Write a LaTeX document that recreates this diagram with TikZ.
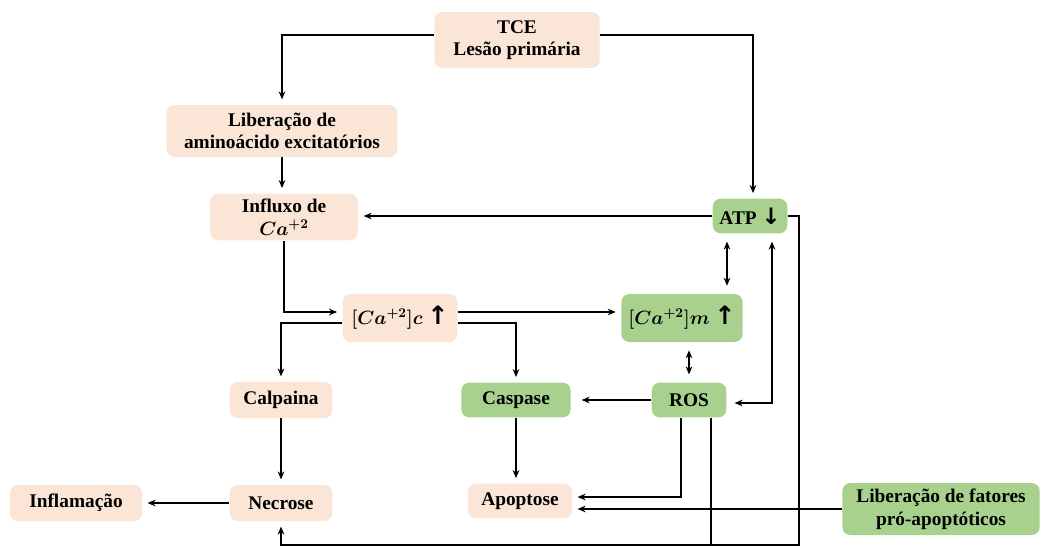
\documentclass[tikz,border=0pt]{standalone}
\usepackage{fontspec}
\setmainfont{Liberation Serif}
\newfontfamily\symfont{DejaVu Sans}
\usepackage{xcolor}
\usepackage{tikz}
\usetikzlibrary{positioning,calc,arrows.meta}

\definecolor{peach}{HTML}{FBE5D6}
\definecolor{leaf}{HTML}{A9D18E}

\newcommand{\upar}{{\symfont\bfseries\fontsize{19}{19}\selectfont ↑}}
\newcommand{\dnar}{{\symfont\bfseries\fontsize{17}{17}\selectfont ↓}}

\tikzset{
  box/.style={rounded corners=6pt, align=center, inner sep=0pt,
    font=\fontsize{14.5}{17}\selectfont\bfseries\boldmath},
  pbox/.style={box, fill=peach},
  gbox/.style={box, fill=leaf},
  wire/.style={line width=1.3pt},
  arr/.style={wire, -{Stealth[length=6pt,width=5pt]}, shorten >=4pt},
  dbl/.style={wire, {Stealth[length=6pt,width=5pt]}-{Stealth[length=6pt,width=5pt]},
    shorten >=6pt, shorten <=6pt}
}

\begin{document}
\begin{tikzpicture}[x=0.75pt,y=-0.75pt]
    \useasboundingbox (0,0) rectangle (1045,546);

    % top of the cascade
    \node[pbox, minimum width=124pt, minimum height=42pt] (tce) at (517,40) {TCE\\Lesão primária};
    \node[pbox, minimum width=173pt, minimum height=39pt] (libam) at (282,131) {Liberação de\\aminoácido excitatórios};
    \node[pbox, minimum width=111pt, minimum height=35pt] (influxo) at (284,217) {Influxo de\\$Ca^{+2}$};
    \node[gbox, minimum width=56pt, minimum height=26pt] (atp) at (750,216) {ATP \dnar};

    % calcium
    \node[pbox, minimum width=86pt, minimum height=36pt] (cac) at (400,318) {$[Ca^{+2}]c$ \upar};
    \node[gbox, minimum width=91pt, minimum height=36pt] (cam) at (682,318) {$[Ca^{+2}]m$ \upar};

    % effectors
    \node[pbox, minimum width=77pt, minimum height=27pt] (calp) at (281,400) {Calpaina};
    \node[gbox, minimum width=82pt, minimum height=26pt] (casp) at (516,400) {Caspase};
    \node[gbox, minimum width=56pt, minimum height=26pt] (ros) at (689,400) {ROS};

    % outcomes
    \node[pbox, minimum width=99pt, minimum height=27pt] (infl) at (76,503) {Inflamação};
    \node[pbox, minimum width=77pt, minimum height=27pt] (necr) at (281,503) {Necrose};
    \node[pbox, minimum width=78pt, minimum height=26pt] (apop) at (520,501) {Apoptose};
    \node[gbox, minimum width=148pt, minimum height=39pt] (libfat) at (941,509) {Liberação de fatores\\pró-apoptóticos};

    \coordinate (botR) at (799,545);

    % connectors
    \draw[arr] ([yshift=3.75pt]tce.west) -| (libam.north);
    \draw[arr] ([yshift=3.75pt]tce.east) -| ([xshift=2.25pt]atp.north);
    \draw[arr] (libam.south) -- (libam.south |- influxo.north);
    \draw[arr] (atp.west) -- (atp.west -| influxo.east);
    \draw[arr] (influxo.south) |- ([yshift=4.5pt]cac.west);
    \draw[arr] ([yshift=-3.75pt]cac.west) -| (calp.north);
    \draw[arr] ([yshift=4.5pt]cac.east) -- ([yshift=4.5pt]cam.west);
    \draw[arr] ([yshift=-3.75pt]cac.east) -| (casp.north);
    \draw[dbl] ([xshift=-17.25pt]atp.south) -- ([xshift=-17.25pt]atp.south |- cam.north);
    \draw[dbl] (ros.north) -- (ros.north |- cam.south);
    \draw[dbl] ([yshift=-2.25pt]ros.east) -| ([xshift=16.5pt]atp.south);
    \draw[arr, shorten >=8pt] (ros.west) -- (casp.east);
    \draw[arr] (calp.south) -- (necr.north);
    \draw[arr] (casp.south) -- (casp.south |- apop.north);
    \draw[arr] (necr.west) -- (infl.east);
    \draw[arr] ([xshift=-6pt]ros.south) |- ([yshift=3pt]apop.east);
    \draw[arr] (libfat.west) -- (libfat.west -| apop.east);
    \draw[arr] (atp.east) -| (botR) -| (necr.south);
    \draw[wire] ([xshift=16.5pt]ros.south) -- ([xshift=16.5pt]ros.south |- botR);
\end{tikzpicture}
\end{document}
